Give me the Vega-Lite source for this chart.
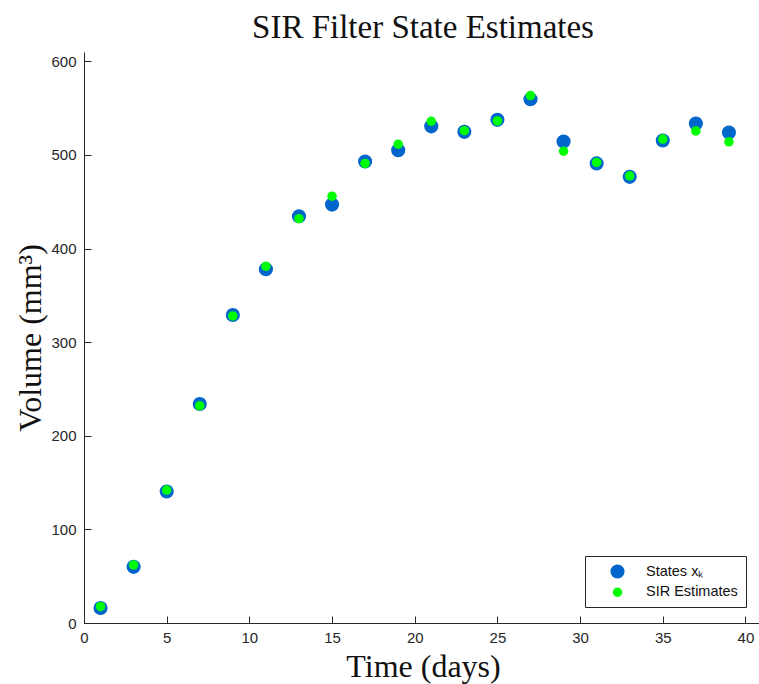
{
  "$schema": "https://vega.github.io/schema/vega-lite/v6.json",
  "width": 678,
  "height": 571,
  "autosize": {"type": "none"},
  "padding": {"left": 84, "top": 52, "right": 0, "bottom": 61},
  "background": "white",
  "title": {
    "text": "SIR Filter State Estimates",
    "font": "Liberation Serif",
    "fontSize": 33,
    "fontWeight": "normal",
    "color": "#111111",
    "anchor": "middle",
    "offset": 7
  },
  "data": {
    "values": [
      {"day": 1, "volume": 16, "series": "States xₖ"},
      {"day": 3, "volume": 60, "series": "States xₖ"},
      {"day": 5, "volume": 140.5, "series": "States xₖ"},
      {"day": 7, "volume": 234, "series": "States xₖ"},
      {"day": 9, "volume": 329, "series": "States xₖ"},
      {"day": 11, "volume": 378, "series": "States xₖ"},
      {"day": 13, "volume": 434.5, "series": "States xₖ"},
      {"day": 15, "volume": 447, "series": "States xₖ"},
      {"day": 17, "volume": 493, "series": "States xₖ"},
      {"day": 19, "volume": 505, "series": "States xₖ"},
      {"day": 21, "volume": 530.6, "series": "States xₖ"},
      {"day": 23, "volume": 524.7, "series": "States xₖ"},
      {"day": 25, "volume": 537.5, "series": "States xₖ"},
      {"day": 27, "volume": 559.5, "series": "States xₖ"},
      {"day": 29, "volume": 514.4, "series": "States xₖ"},
      {"day": 31, "volume": 491, "series": "States xₖ"},
      {"day": 33, "volume": 476.6, "series": "States xₖ"},
      {"day": 35, "volume": 515.5, "series": "States xₖ"},
      {"day": 37, "volume": 533.6, "series": "States xₖ"},
      {"day": 39, "volume": 524, "series": "States xₖ"},
      {"day": 1, "volume": 17.7, "series": "SIR Estimates"},
      {"day": 3, "volume": 62, "series": "SIR Estimates"},
      {"day": 5, "volume": 142, "series": "SIR Estimates"},
      {"day": 7, "volume": 232, "series": "SIR Estimates"},
      {"day": 9, "volume": 328, "series": "SIR Estimates"},
      {"day": 11, "volume": 381, "series": "SIR Estimates"},
      {"day": 13, "volume": 432, "series": "SIR Estimates"},
      {"day": 15, "volume": 456, "series": "SIR Estimates"},
      {"day": 17, "volume": 491, "series": "SIR Estimates"},
      {"day": 19, "volume": 511.5, "series": "SIR Estimates"},
      {"day": 21, "volume": 536, "series": "SIR Estimates"},
      {"day": 23, "volume": 526, "series": "SIR Estimates"},
      {"day": 25, "volume": 536.4, "series": "SIR Estimates"},
      {"day": 27, "volume": 563.5, "series": "SIR Estimates"},
      {"day": 29, "volume": 504, "series": "SIR Estimates"},
      {"day": 31, "volume": 492, "series": "SIR Estimates"},
      {"day": 33, "volume": 477.7, "series": "SIR Estimates"},
      {"day": 35, "volume": 517, "series": "SIR Estimates"},
      {"day": 37, "volume": 525.7, "series": "SIR Estimates"},
      {"day": 39, "volume": 514, "series": "SIR Estimates"}
    ]
  },
  "mark": {"type": "circle", "opacity": 1, "strokeWidth": 0},
  "encoding": {
    "x": {
      "field": "day",
      "type": "quantitative",
      "scale": {"domain": [0, 41], "nice": false, "zero": false},
      "axis": {
        "title": "Time (days)",
        "values": [0, 5, 10, 15, 20, 25, 30, 35, 40],
        "grid": false,
        "labelFlush": false,
        "tickSize": -7,
        "labelPadding": 14,
        "titleY": 53,
        "titleBaseline": "alphabetic"
      }
    },
    "y": {
      "field": "volume",
      "type": "quantitative",
      "scale": {"domain": [0, 610], "nice": false},
      "axis": {
        "title": "Volume (mm³)",
        "values": [0, 100, 200, 300, 400, 500, 600],
        "grid": false,
        "labelFlush": false,
        "tickSize": -7,
        "labelPadding": 15,
        "titleX": -54,
        "titleY": 285.5,
        "titleAngle": -90,
        "titleAlign": "center",
        "titleBaseline": "middle"
      }
    },
    "color": {
      "field": "series",
      "type": "nominal",
      "sort": null,
      "scale": {"domain": ["States xₖ", "SIR Estimates"], "range": ["#0066cc", "#00ff00"]},
      "legend": {
        "title": null,
        "orient": "none",
        "legendX": 501,
        "legendY": 504,
        "strokeColor": "#262626",
        "fillColor": "white",
        "padding": 8,
        "symbolOffset": 17,
        "labelOffset": 21,
        "rowPadding": 5,
        "labelFont": "Liberation Sans",
        "labelFontSize": 14.5,
        "labelColor": "#111111",
        "symbolOpacity": 1,
        "symbolStrokeWidth": 0
      }
    },
    "size": {
      "field": "series",
      "type": "nominal",
      "sort": null,
      "scale": {"domain": ["States xₖ", "SIR Estimates"], "range": [200, 90]},
      "legend": null
    }
  },
  "config": {
    "view": {"stroke": null},
    "axis": {
      "domainColor": "#262626",
      "tickColor": "#262626",
      "labelColor": "#262626",
      "labelFont": "Liberation Sans",
      "labelFontSize": 15,
      "titleFont": "Liberation Serif",
      "titleFontSize": 32,
      "titleFontWeight": "normal",
      "titleColor": "#111111",
      "domainWidth": 1,
      "tickWidth": 1
    }
  }
}
